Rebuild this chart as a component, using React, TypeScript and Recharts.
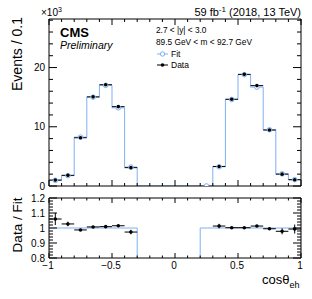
import React from "react";
import { ComposedChart, Line, Scatter, ErrorBar, XAxis, YAxis } from "recharts";

// 20 bins of width 0.1 in cos(theta_eh)
const binLow = [-1, -0.9, -0.8, -0.7, -0.6, -0.5, -0.4, -0.3, -0.2, -0.1, 0, 0.1, 0.2, 0.3, 0.4, 0.5, 0.6, 0.7, 0.8, 0.9];
const binCenter = binLow.map((v) => v + 0.05);

// events per bin, in units of 10^3
const dataVals = [1.0, 1.8, 8.15, 15.05, 17.1, 13.4, 3.1, null, null, null, null, null, null, 3.3, 14.65, 18.85, 16.95, 9.45, 2.0, 1.06];
const fitVals = [0.95, 1.75, 8.25, 15.0, 17.0, 13.2, 3.2, null, null, null, null, null, 0, 3.25, 14.6, 18.8, 16.7, 9.5, 2.05, 1.07];

// data / fit
const ratioVals = [1.06, 1.027, 0.987, 1.007, 1.009, 1.015, 0.973, null, null, null, null, null, null, 1.013, 1.002, 1.002, 1.013, 0.995, 0.978, 0.993];
const ratioErr = [0.04, 0.015, 0.007, 0.005, 0.005, 0.005, 0.015, null, null, null, null, null, null, 0.015, 0.006, 0.005, 0.005, 0.008, 0.02, 0.03];

const xTicks = [-1, -0.9, -0.8, -0.7, -0.6, -0.5, -0.4, -0.3, -0.2, -0.1, 0, 0.1, 0.2, 0.3, 0.4, 0.5, 0.6, 0.7, 0.8, 0.9, 1];
const xLabels: Record<string, string> = { "-1": "\u22121", "-0.5": "\u22120.5", "0": "0", "0.5": "0.5", "1": "1" };
const yTicksTop = [0, 2, 4, 6, 8, 10, 12, 14, 16, 18, 20, 22, 24, 26, 28];
const yMajorTop = [0, 10, 20];
const yTicksRatio = [0.8, 0.82, 0.84, 0.86, 0.88, 0.9, 0.92, 0.94, 0.96, 0.98, 1, 1.02, 1.04, 1.06, 1.08, 1.1, 1.12, 1.14, 1.16, 1.18, 1.2];
const yLabelsRatio: Record<string, string> = { "0.8": "0.8", "0.9": "0.9", "1": "1", "1.1": "1.1", "1.2": "1.2" };

const FIT = "#7fb0f5";
const FONT = "'Liberation Sans', Arial, Helvetica, sans-serif";

const dataPoints = binCenter
  .map((x, i) => ({ x, y: dataVals[i], ex: 0.05 }))
  .filter((d) => d.y !== null);
const fitPoints = binCenter
  .map((x, i) => ({ x, y: fitVals[i] }))
  .filter((d) => d.y !== null);
const fitStep = [
  ...binLow.map((x, i) => ({ x, y: fitVals[i] ?? 0 })),
  { x: 1, y: fitVals[fitVals.length - 1] ?? 0 },
];
const ratioPoints = binCenter
  .map((x, i) => ({ x, y: ratioVals[i], ex: 0.05, ey: ratioErr[i] }))
  .filter((d) => d.y !== null);
const ratioStep = [
  ...binLow.map((x, i) => ({ x, y: fitVals[i] === null ? 0 : 1 })),
  { x: 1, y: 1 },
];

const near = (a: number, b: number) => Math.abs(a - b) < 1e-6;
const isMajorX = (v: number) => near(v * 2, Math.round(v * 2));

function Tick(props: any) {
  const { x, y, payload, side, major, minor, labels, size = 10 } = props;
  const v = payload.value;
  const isMajor = side === "top" || side === "bottom" ? isMajorX(v) : major(v);
  const len = isMajor ? minor * 2 : minor;
  let line;
  if (side === "left") line = <line x1={x} y1={y} x2={x + len} y2={y} stroke="#000" />;
  else if (side === "right") line = <line x1={x} y1={y} x2={x - len} y2={y} stroke="#000" />;
  else if (side === "top") line = <line x1={x} y1={y} x2={x} y2={y + len} stroke="#000" />;
  else line = <line x1={x} y1={y} x2={x} y2={y - len} stroke="#000" />;
  const key = String(Math.round(v * 1000) / 1000);
  const text = labels ? labels[key] : undefined;
  return (
    <g>
      {line}
      {text !== undefined && side === "left" && (
        <text x={x - 4} y={y} dy="0.35em" textAnchor="end" fontSize={size} fontFamily={FONT} fill="#000">
          {text}
        </text>
      )}
      {text !== undefined && side === "bottom" && (
        <text x={x - 1} y={y + 11} textAnchor="middle" fontSize={size} fontFamily={FONT} fill="#000">
          {text}
        </text>
      )}
    </g>
  );
}

const axisCommon = {
  type: "number" as const,
  allowDataOverflow: true,
  interval: 0 as const,
  tickSize: 0,
  tickMargin: 0,
  tickLine: false,
  axisLine: { stroke: "#000" },
};

function Frame({ yDomain, yTicks, yMajor, yLabels, xLabelsOn, xMinor, yMinor }: any) {
  return [
    <XAxis key="b" xAxisId="b" orientation="bottom" dataKey="x" domain={[-1, 1]} ticks={xTicks} height={1} {...axisCommon}
      tick={(p: any) => <Tick {...p} side="bottom" minor={xMinor} labels={xLabelsOn ? xLabels : undefined} />} />,
    <XAxis key="t" xAxisId="t" orientation="top" dataKey="x" domain={[-1, 1]} ticks={xTicks} height={1} {...axisCommon}
      tick={(p: any) => <Tick {...p} side="top" minor={xMinor} />} />,
    <YAxis key="l" yAxisId="l" orientation="left" domain={yDomain} ticks={yTicks} width={1} {...axisCommon}
      tick={(p: any) => <Tick {...p} side="left" minor={yMinor} major={yMajor} labels={yLabels} />} />,
    <YAxis key="r" yAxisId="r" orientation="right" domain={yDomain} ticks={yTicks} width={1} {...axisCommon}
      tick={(p: any) => <Tick {...p} side="right" minor={yMinor} major={yMajor} />} />,
  ];
}

export default function App() {
  const topLabels: Record<string, string> = { "0": "0", "10": "10", "20": "20" };
  return (
    <div style={{ position: "absolute", left: 0, top: 0, width: 312, height: 299, background: "#fff", fontFamily: FONT }}>
      <div style={{ position: "absolute", left: 0, top: 0 }}>
        <ComposedChart width={312} height={196} margin={{ top: 18, right: 10, bottom: 9, left: 48 }}>
          {Frame({
            yDomain: [0, 28.2],
            yTicks: yTicksTop,
            yMajor: (v: number) => yMajorTop.some((m) => near(m, v)),
            yLabels: topLabels,
            xLabelsOn: false,
            xMinor: 3,
            yMinor: 4,
          })}
          <Line xAxisId="b" yAxisId="l" data={fitStep} dataKey="y" type="stepAfter" stroke={FIT} strokeWidth={1} dot={false} isAnimationActive={false} />
          <Scatter xAxisId="b" yAxisId="l" data={fitPoints} dataKey="y" isAnimationActive={false}
            shape={(p: any) => <circle cx={p.cx} cy={p.cy} r={2.3} fill="#fff" stroke={FIT} strokeWidth={1} />} />
          <Scatter xAxisId="b" yAxisId="l" data={dataPoints} dataKey="y" isAnimationActive={false}
            shape={(p: any) => <circle cx={p.cx} cy={p.cy} r={1.8} fill="#000" />}>
            <ErrorBar dataKey="ex" direction="x" width={0} stroke="#000" strokeWidth={1} />
          </Scatter>
        </ComposedChart>
      </div>
      <div style={{ position: "absolute", left: 0, top: 0 }}>
        <ComposedChart width={312} height={299} margin={{ top: 197, right: 10, bottom: 40, left: 48 }}>
          {Frame({
            yDomain: [0.8, 1.2],
            yTicks: yTicksRatio,
            yMajor: (v: number) => near(v * 10, Math.round(v * 10)),
            yLabels: yLabelsRatio,
            xLabelsOn: true,
            xMinor: 2.5,
            yMinor: 4,
          })}
          <Line xAxisId="b" yAxisId="l" data={ratioStep} dataKey="y" type="stepAfter" stroke={FIT} strokeWidth={1} dot={false} isAnimationActive={false} />
          <Scatter xAxisId="b" yAxisId="l" data={ratioPoints} dataKey="y" isAnimationActive={false}
            shape={(p: any) => <circle cx={p.cx} cy={p.cy} r={1.8} fill="#000" />}>
            <ErrorBar dataKey="ex" direction="x" width={0} stroke="#000" strokeWidth={1} />
            <ErrorBar dataKey="ey" direction="y" width={0} stroke="#000" strokeWidth={1} />
          </Scatter>
        </ComposedChart>
      </div>
      <svg width={312} height={299} style={{ position: "absolute", left: 0, top: 0, pointerEvents: "none" }} fontFamily={FONT}>
        <text x={301} y={16} textAnchor="end" fontSize={11}>
          59 fb<tspan fontSize={8} dy={-4}>-1</tspan><tspan dy={4}> (2018, 13 TeV)</tspan>
        </text>
        <text x={41} y={16} fontSize={10}>
          ×10<tspan fontSize={7} dy={-4}>3</tspan>
        </text>
        <text x={60} y={37} fontSize={13} fontWeight="bold">CMS</text>
        <text x={60} y={49} fontSize={10.5} fontStyle="italic">Preliminary</text>
        <text x={156} y={33} fontSize={8.3}>2.7 &lt; |y| &lt; 3.0</text>
        <text x={156} y={45} fontSize={8.3}>89.5 GeV &lt; m &lt; 92.7 GeV</text>
        <line x1={157} y1={54} x2={168} y2={54} stroke={FIT} />
        <circle cx={162.5} cy={54} r={2.2} fill="#fff" stroke={FIT} />
        <text x={171} y={57} fontSize={8.5}>Fit</text>
        <line x1={157} y1={65} x2={168} y2={65} stroke="#000" />
        <circle cx={162.5} cy={65} r={1.8} fill="#000" />
        <text x={171} y={68} fontSize={8.5}>Data</text>
        <text transform="translate(22,54) rotate(-90)" textAnchor="middle" fontSize={14}>Events / 0.1</text>
        <text transform="translate(22,225) rotate(-90)" textAnchor="middle" fontSize={13.5}>Data / Fit</text>
        <text x={262} y={284} fontSize={13}>
          cosθ<tspan fontSize={9} dy={4}>eh</tspan>
        </text>
      </svg>
    </div>
  );
}
